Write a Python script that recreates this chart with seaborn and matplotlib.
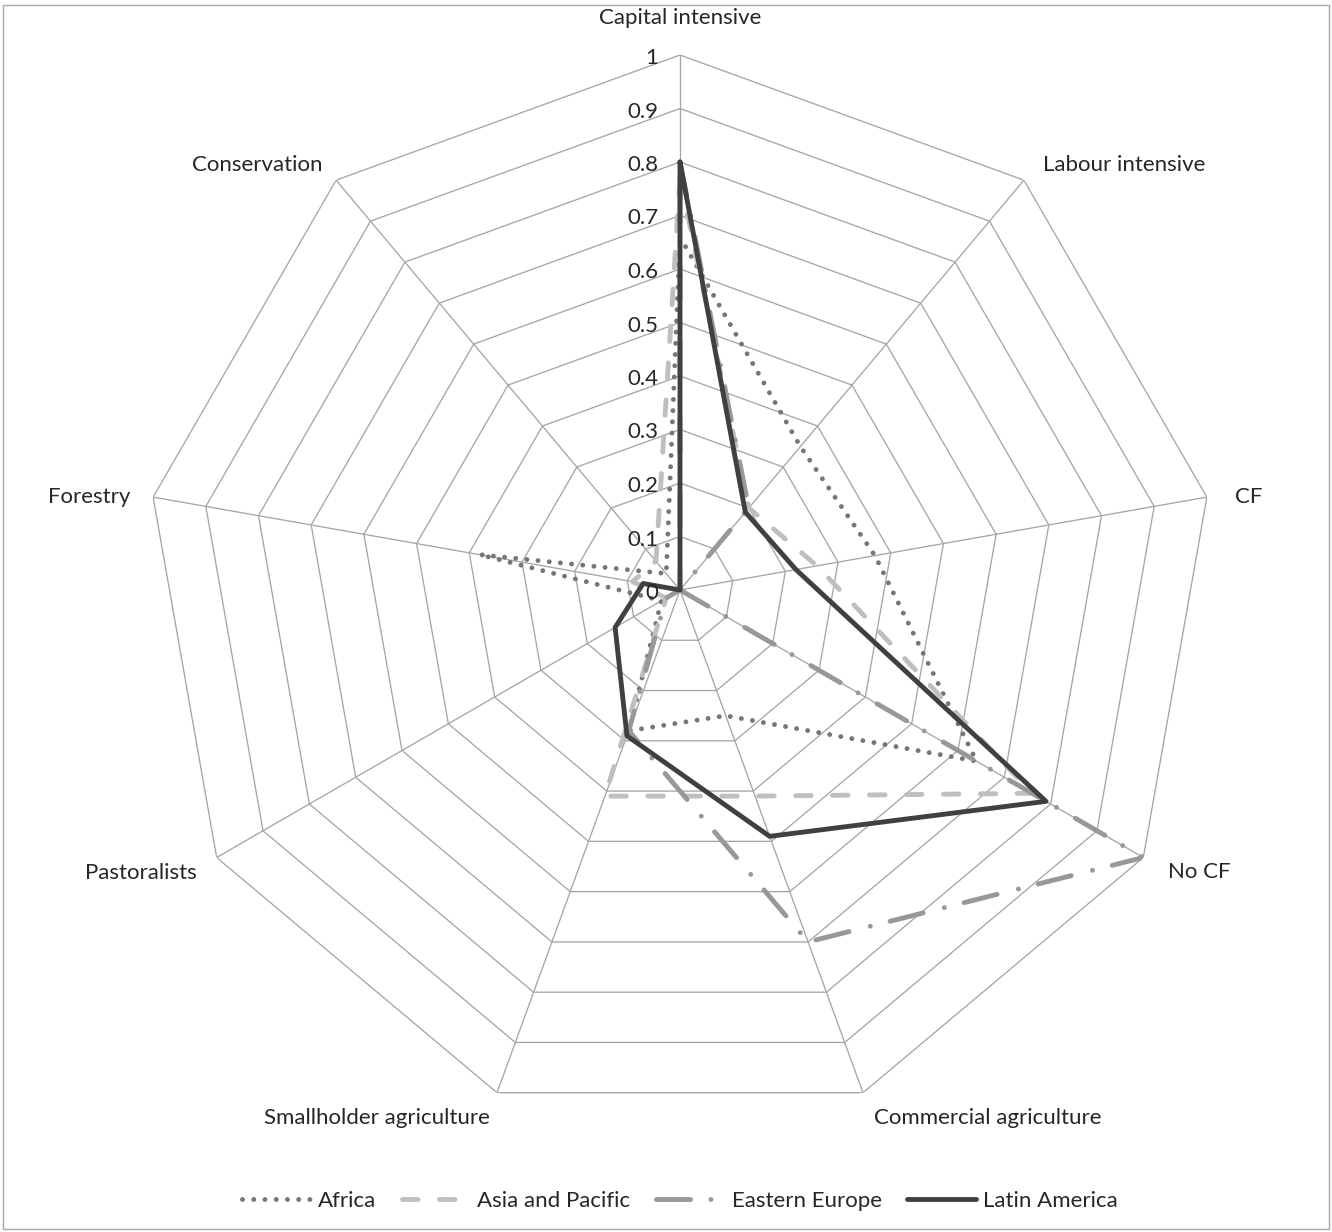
import numpy as np
import pandas as pd
import matplotlib
matplotlib.use("Agg")
import matplotlib.pyplot as plt
import seaborn as sns
from matplotlib.lines import Line2D
from matplotlib.patches import Rectangle

# ---- data -------------------------------------------------------------
categories = [
    "Capital intensive", "Labour intensive", "CF", "No CF",
    "Commercial agriculture", "Smallholder agriculture",
    "Pastoralists", "Forestry", "Conservation",
]
regions = ["Africa", "Asia and Pacific", "Eastern Europe", "Latin America"]

africa = [0.66, 0.35, 0.37, 0.64, 0.25, 0.28, 0.04, 0.38, 0.04]
asia_pacific = [0.77, 0.20, 0.26, 0.76, 0.41, 0.41, 0.03, 0.09, 0.07]
eastern_europe = [0.80, 0.20, 0.00, 1.00, 0.70, 0.28, 0.03, 0.00, 0.00]
latin_america = [0.80, 0.19, 0.22, 0.79, 0.49, 0.29, 0.14, 0.07, 0.00]

ring_values = [0.1, 0.2, 0.3, 0.4, 0.5, 0.6, 0.7, 0.8, 0.9, 1.0]
tick_values = [0.0] + ring_values
tick_labels = ["0", "0.1", "0.2", "0.3", "0.4", "0.5", "0.6", "0.7", "0.8", "0.9", "1"]

# ---- styles -----------------------------------------------------------
palette = {
    "Africa": "#767676",
    "Asia and Pacific": "#bfbfbf",
    "Eastern Europe": "#989898",
    "Latin America": "#404040",
}
dashes = {
    "Africa": (0.01, 2.3),
    "Asia and Pacific": (3.2, 4.4),
    "Eastern Europe": (7.0, 4.2, 0.01, 4.5),
    "Latin America": "",
}
LW = 3.5
FS = 16
grid_color = "#a6a6a6"
text_color = "#262626"

sns.set_theme(style="white")
plt.rcParams["font.family"] = ["Lato", "DejaVu Sans"]

W, H = 1332, 1232
fig = plt.figure(figsize=(W / 100, H / 100), dpi=100)
fig.patch.set_facecolor("white")

cx, cy, R = 680, 590, 535
ax = fig.add_axes([(cx - R) / W, (H - cy - R) / H, 2 * R / W, 2 * R / H],
                  projection="polar")
ax.set_theta_zero_location("N")
ax.set_theta_direction(-1)
ax.grid(False)
ax.spines["polar"].set_visible(False)
ax.patch.set_alpha(0)

n = len(categories)
angles = np.linspace(0, 2 * np.pi, n, endpoint=False)
closed = np.append(angles, angles[0] + 2 * np.pi)

# polygon grid rings and spokes
for v in ring_values:
    ax.plot(closed, [v] * (n + 1), color=grid_color, lw=0.95, zorder=1)
for a in angles:
    ax.plot([a, a], [0, 1], color=grid_color, lw=0.95, zorder=1)

# ---- series -----------------------------------------------------------
series = [africa, asia_pacific, eastern_europe, latin_america]
rows = []
for name, vals in zip(regions, series):
    for a, v in zip(closed, list(vals) + [vals[0]]):
        rows.append({"region": name, "theta": a, "value": v})
df = pd.DataFrame(rows)

n_before = len(ax.lines)
sns.lineplot(
    data=df, x="theta", y="value", hue="region", style="region",
    hue_order=regions, style_order=regions, palette=palette, dashes=dashes,
    sort=False, estimator=None, linewidth=LW, legend=False, ax=ax,
)
for line in ax.lines[n_before:]:
    line.set_dash_capstyle("round")
    line.set_solid_capstyle("round")
    line.set_solid_joinstyle("round")
    line.set_dash_joinstyle("round")
    line.set_zorder(3)

ax.set_xticks([])
ax.set_yticks([])
ax.set_xlabel("")
ax.set_ylabel("")
ax.set_ylim(0, 1)

# ---- value labels along the top spoke -----------------------------------
for v, lab in zip(tick_values, tick_labels):
    ax.annotate(lab, xy=(0, v), xytext=(-22, -3), textcoords="offset pixels",
                ha="right", va="center", fontsize=FS, color=text_color)

# ---- category labels --------------------------------------------------
label_offsets = [
    ((0, 37), "center"),
    ((19, 15), "left"),
    ((28, 0), "left"),
    ((25, -15), "left"),
    ((11, -25), "left"),
    ((-7, -25), "right"),
    ((-20, -15), "right"),
    ((-23, 0), "right"),
    ((-14, 15), "right"),
]
for a, cat, (off, ha) in zip(angles, categories, label_offsets):
    ax.annotate(cat, xy=(a, 1), xytext=off, textcoords="offset pixels",
                ha=ha, va="center", fontsize=FS, color=text_color,
                annotation_clip=False)

# ---- legend -----------------------------------------------------------
handles = []
for name in regions:
    d = dashes[name]
    kw = dict(color=palette[name], lw=LW, solid_capstyle="round",
              dash_capstyle="round")
    if d:
        kw["dashes"] = d
    handles.append(Line2D([0], [0], **kw))
leg = fig.legend(handles, regions, loc="center",
                 bbox_to_anchor=(cx / W, 1 - 1201 / H), ncol=4, frameon=False,
                 handlelength=3.1, handletextpad=0.3, columnspacing=1.15,
                 fontsize=FS)
for t in leg.get_texts():
    t.set_color(text_color)

# outer frame
fig.add_artist(Rectangle((3 / W, 3 / H), (W - 6) / W, (H - 8) / H,
                         transform=fig.transFigure, fill=False,
                         edgecolor="#a6a6a6", lw=1.0))

fig.savefig("out.png", dpi=100)
